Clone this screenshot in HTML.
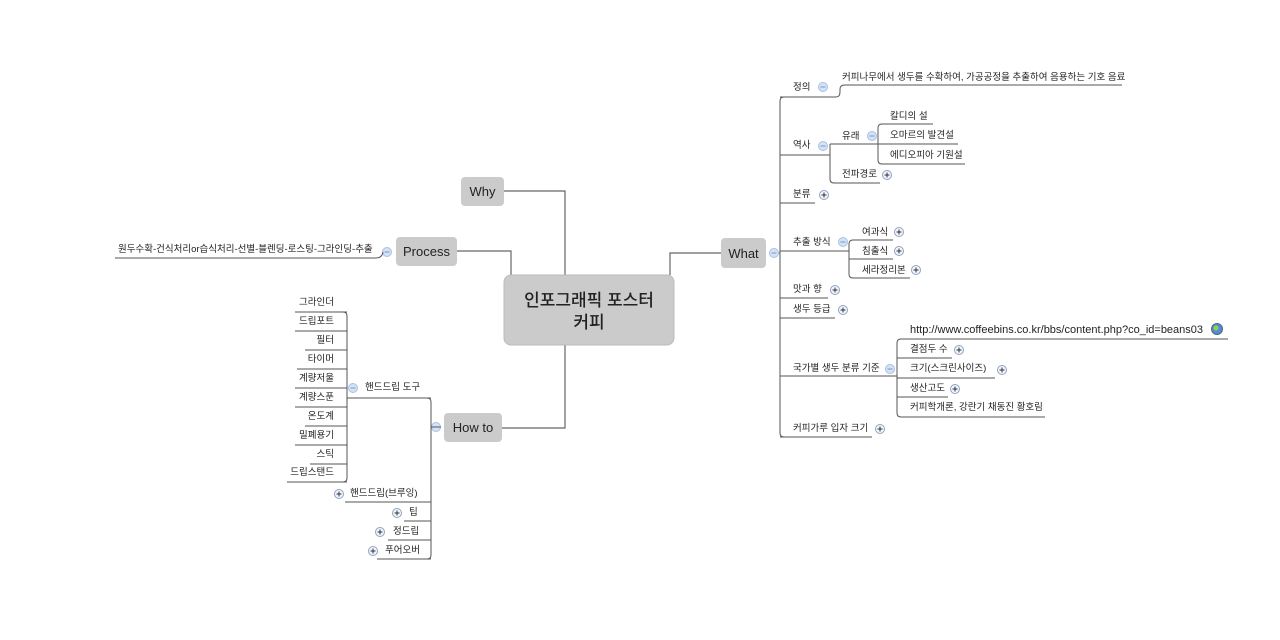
<!DOCTYPE html>
<html><head><meta charset="utf-8"><style>
html,body{margin:0;padding:0;background:#fff;width:1280px;height:640px;overflow:hidden}
svg{display:block}
text{font-family:"Liberation Sans","Noto Sans CJK KR","NanumGothic",sans-serif;fill:#222}
.s{font-size:9.5px}
.m{font-size:13px}
.l{stroke:#555;stroke-width:1;fill:none}
.t{stroke:#666;stroke-width:1.2;fill:none}
</style></head><body>
<svg width="1280" height="640" viewBox="0 0 1280 640" xmlns="http://www.w3.org/2000/svg">
<defs>
<g id="mi"><circle r="4.5" fill="#d3e2f6" stroke="#a9c1e3"/><line x1="-2.5" y1="0" x2="2.5" y2="0" stroke="#7f98c0" stroke-width="1"/></g>
<g id="pl"><circle r="4.5" fill="#f2f5fb" stroke="#8fa3c6"/><line x1="-2.5" y1="0" x2="2.5" y2="0" stroke="#333" stroke-width="1"/><line x1="0" y1="-2.5" x2="0" y2="2.5" stroke="#333" stroke-width="1"/></g>
</defs>

<path class="t" d="M504,191 H565 V275"/>
<path class="t" d="M456,251 H511 V275"/>
<path class="t" d="M721,253 H670 V275"/>
<path class="t" d="M502,428 H565 V345"/>

<rect x="504" y="275" width="170" height="70" rx="7" fill="#cbcbcb" stroke="#bbb"/>
<text x="589" y="306" text-anchor="middle" style="font-size:17px;font-weight:500">인포그래픽 포스터</text>
<text x="589" y="328" text-anchor="middle" style="font-size:17px;font-weight:500">커피</text>

<rect x="461" y="177" width="43" height="29" rx="4" fill="#cbcbcb"/>
<text x="482.5" y="196" text-anchor="middle" class="m">Why</text>
<rect x="396" y="237" width="61" height="29" rx="4" fill="#cbcbcb"/>
<text x="426.5" y="256" text-anchor="middle" class="m">Process</text>
<rect x="721" y="238" width="45" height="30" rx="4" fill="#cbcbcb"/>
<text x="743.5" y="258" text-anchor="middle" class="m">What</text>
<rect x="444" y="413" width="58" height="29" rx="4" fill="#cbcbcb"/>
<text x="473" y="432" text-anchor="middle" class="m">How to</text>

<use href="#mi" x="387" y="252"/>
<path class="l" d="M383,252 Q382,258 376,258 H115"/>
<text x="118" y="252" class="s">원두수확-건식처리or습식처리-선별-블렌딩-로스팅-그라인딩-추출</text>

<use href="#mi" x="774" y="253"/>
<path class="l" d="M779,253 H780"/>
<path class="l" d="M784,97 Q780,97 780,101 V433 Q780,437 784,437"/>
<path class="l" d="M780,97 H836 Q840,97 840,92 V89 Q840,85 845,85 H1122"/>
<text x="793" y="90" class="s">정의</text><use href="#mi" x="823" y="87"/>
<text x="842" y="80" class="s">커피나무에서 생두를 수확하여, 가공공정을 추출하여 음용하는 기호 음료</text>
<path class="l" d="M780,155 H830"/>
<text x="793" y="148" class="s">역사</text><use href="#mi" x="823" y="146"/>
<path class="l" d="M830,144 V179 Q830,183 834,183 H880"/>
<path class="l" d="M830,144 H878"/>
<text x="842" y="139" class="s">유래</text><use href="#mi" x="872" y="136"/>
<text x="842" y="177" class="s">전파경로</text><use href="#pl" x="887" y="175"/>
<path class="l" d="M878,144 V128 Q878,124 882,124 H933"/>
<path class="l" d="M878,144 V160 Q878,164 882,164 H965"/>
<path class="l" d="M878,144 H958"/>
<text x="890" y="119" class="s">칼디의 설</text>
<text x="890" y="138" class="s">오마르의 발견설</text>
<text x="890" y="158" class="s">에디오피아 기원설</text>
<path class="l" d="M780,203 H815"/>
<text x="793" y="197" class="s">분류</text><use href="#pl" x="824" y="195"/>
<path class="l" d="M780,251 H849"/>
<text x="793" y="245" class="s">추출 방식</text><use href="#mi" x="843" y="242"/>
<path class="l" d="M849,251 V244 Q849,240 853,240 H893"/>
<path class="l" d="M849,251 V274 Q849,278 853,278 H910"/>
<path class="l" d="M849,259 H893"/>
<text x="862" y="235" class="s">여과식</text><use href="#pl" x="899" y="232"/>
<text x="862" y="254" class="s">침출식</text><use href="#pl" x="899" y="251"/>
<text x="862" y="273" class="s">세라정리본</text><use href="#pl" x="916" y="270"/>
<path class="l" d="M780,298 H828"/>
<text x="793" y="292" class="s">맛과 향</text><use href="#pl" x="835" y="290"/>
<path class="l" d="M780,318 H835"/>
<text x="793" y="312" class="s">생두 등급</text><use href="#pl" x="843" y="310"/>
<path class="l" d="M780,376 H897"/>
<text x="793" y="371" class="s">국가별 생두 분류 기준</text><use href="#mi" x="890" y="369"/>
<path class="l" d="M897,376 V343 Q897,339 901,339 H1228"/>
<path class="l" d="M897,376 V413 Q897,417 901,417 H1045"/>
<path class="l" d="M897,358 H952"/>
<path class="l" d="M897,378 H995"/>
<path class="l" d="M897,397 H948"/>
<text x="910" y="333" style="font-size:11px">http://www.coffeebins.co.kr/bbs/content.php?co_id=beans03</text>
<circle cx="1217" cy="329" r="5.5" fill="#4d8fd6" stroke="#567"/><circle cx="1216" cy="328" r="2.5" fill="#9ccb4f"/>
<text x="910" y="352" class="s">결점두 수</text><use href="#pl" x="959" y="350"/>
<text x="910" y="371" class="s">크기(스크린사이즈)</text><use href="#pl" x="1002" y="370"/>
<text x="910" y="391" class="s">생산고도</text><use href="#pl" x="955" y="389"/>
<text x="910" y="410" class="s">커피학개론, 강란기 채동진 황호림</text>
<path class="l" d="M780,437 H872"/>
<text x="793" y="431" class="s">커피가루 입자 크기</text><use href="#pl" x="880" y="429"/>

<use href="#mi" x="436" y="427"/>
<path class="l" d="M427,398 Q431,398 431,402 V555 Q431,559 427,559"/>
<path class="l" d="M441,427 H431"/>
<path class="l" d="M431,398 H347"/>
<text x="365" y="390" class="s">핸드드립 도구</text><use href="#mi" x="353" y="388"/>
<path class="l" d="M343,312 Q347,312 347,316 V478 Q347,482 343,482"/>
<path class="l" d="M347,312 H295"/><text x="334" y="305" class="s" text-anchor="end">그라인더</text>
<path class="l" d="M347,331 H295"/><text x="334" y="324" class="s" text-anchor="end">드립포트</text>
<path class="l" d="M347,350 H305"/><text x="334" y="343" class="s" text-anchor="end">필터</text>
<path class="l" d="M347,369 H297"/><text x="334" y="362" class="s" text-anchor="end">타이머</text>
<path class="l" d="M347,388 H295"/><text x="334" y="381" class="s" text-anchor="end">계량저울</text>
<path class="l" d="M347,407 H295"/><text x="334" y="400" class="s" text-anchor="end">계량스푼</text>
<path class="l" d="M347,426 H305"/><text x="334" y="419" class="s" text-anchor="end">온도계</text>
<path class="l" d="M347,445 H295"/><text x="334" y="438" class="s" text-anchor="end">밀폐용기</text>
<path class="l" d="M347,464 H310"/><text x="334" y="457" class="s" text-anchor="end">스틱</text>
<path class="l" d="M347,482 H287"/><text x="334" y="475" class="s" text-anchor="end">드립스탠드</text>

<path class="l" d="M431,502 H345"/><text x="350" y="496" class="s">핸드드립(브루잉)</text><use href="#pl" x="339" y="494"/>
<path class="l" d="M431,521 H404"/><text x="409" y="515" class="s">팁</text><use href="#pl" x="397" y="513"/>
<path class="l" d="M431,540 H388"/><text x="393" y="534" class="s">정드립</text><use href="#pl" x="380" y="532"/>
<path class="l" d="M431,559 H377"/><text x="385" y="553" class="s">푸어오버</text><use href="#pl" x="373" y="551"/>
</svg>
</body></html>
